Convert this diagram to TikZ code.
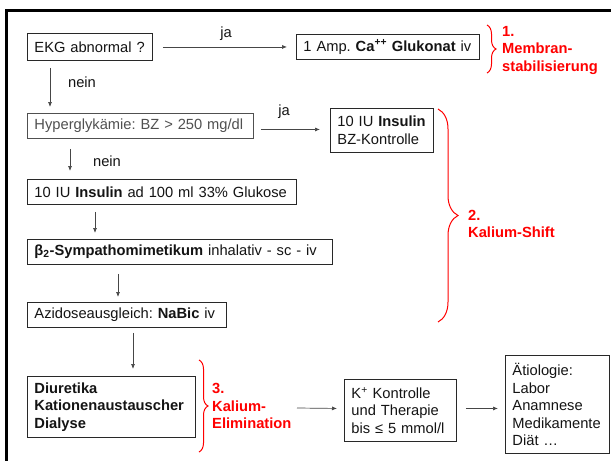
\documentclass[tikz,border=0pt]{standalone}
\usepackage{fontspec}
\setmainfont{Liberation Sans}
\usetikzlibrary{arrows.meta,decorations.pathreplacing}
\definecolor{redc}{RGB}{255,0,0}
\definecolor{boxline}{RGB}{40,40,40}
\definecolor{arrc}{RGB}{70,70,70}
\definecolor{txt}{RGB}{20,20,20}
\definecolor{hyptxt}{RGB}{80,80,80}
\frenchspacing
\begin{document}
\begin{tikzpicture}[x=1pt,y=-1pt,
  box/.style={draw=boxline, line width=0.9pt, anchor=north west, inner xsep=7pt, inner ysep=0pt, align=left, text=txt, font=\fontsize{14.7}{17.5}\selectfont\frenchspacing},
  arr/.style={draw=arrc, line width=0.7pt, -{Latex[length=5pt,width=4pt]}},
  lbl/.style={text=txt, font=\fontsize{14.7}{17.5}\selectfont, inner sep=0pt, anchor=base},
  redlbl/.style={text=redc, font=\fontsize{14.7}{17.5}\selectfont\bfseries, align=left, anchor=west, inner sep=0pt},
  brc/.style={draw=redc, line width=1pt, decorate, decoration={brace, amplitude=#1}},
]
\useasboundingbox (0,0) rectangle (611,461);
\fill[white] (0,0) rectangle (611,461);
% frame
\draw[line width=3pt, line join=miter] (611,10.5) -- (6.5,10.5) -- (6.5,461);

% boxes
\node[box, minimum width=125pt, text width=111pt, minimum height=27pt] (ekg) at (27,33) {\mbox{EKG abnormal ?}};
\node[box, minimum width=183pt, text width=169pt, minimum height=25pt] (ca) at (296,34) {\mbox{1 Amp. \textbf{Ca\textsuperscript{++} Glukonat} iv}};
\node[box, draw=hyptxt, text=hyptxt, minimum width=226pt, text width=212pt, minimum height=25pt] (hyp) at (27,113) {\mbox{Hyperglykämie: BZ > 250 mg/dl}};
\node[box, minimum width=103pt, text width=89pt, minimum height=44pt] (ins1) at (330,108) {\mbox{10 IU \textbf{Insulin}}\\BZ-Kontrolle};
\node[box, minimum width=269pt, text width=255pt, minimum height=25pt] (ins2) at (27,179) {\mbox{10 IU \textbf{Insulin} ad 100 ml 33\% Glukose}};
\node[box, minimum width=305pt, text width=291pt, minimum height=25pt] (beta) at (27,239) {\mbox{\textbf{β\textsubscript{2}-Sympathomimetikum} inhalativ - sc - iv}};
\node[box, minimum width=199pt, text width=185pt, minimum height=25pt] (azi) at (27,302) {\mbox{Azidoseausgleich: \textbf{NaBic} iv}};
\node[box, minimum width=168pt, text width=154pt, minimum height=61pt] (diu) at (27,376) {\textbf{Diuretika}\\\textbf{Kationenaustauscher}\\\textbf{Dialyse}};
\node[box, minimum width=112pt, text width=98pt, minimum height=62pt] (kk) at (344,379) {\mbox{K\textsuperscript{+} Kontrolle}\\\mbox{und Therapie}\\\mbox{bis ≤ 5 mmol/l}};
\node[box, minimum width=104pt, text width=90pt, minimum height=98pt] (aet) at (505,355) {Ätiologie:\\Labor\\Anamnese\\Medikamente\\Diät …};

% connectors
\draw[arr] ([xshift=10pt]ekg.east) -- ([xshift=-9pt]ca.west);
\node[lbl] (ja1) at (226,37) {ja};
\draw[arr] ([xshift=23pt,yshift=-7pt]ekg.south west) -- ([xshift=23pt,yshift=6pt]hyp.north west);
\node[lbl] (nein1) at (82,87) {nein};
\draw[arr] ([xshift=7pt,yshift=-3.5pt]hyp.east) -- ([xshift=-10pt,yshift=1pt]ins1.west);
\node[lbl] (ja2) at (284,115) {ja};
\draw[arr] ([xshift=43pt,yshift=-10pt]hyp.south west) -- ([xshift=43pt,yshift=8pt]ins2.north west);
\node[lbl] (nein2) at (107,166) {nein};
\draw[arr] ([xshift=68pt,yshift=-7pt]ins2.south west) -- ([xshift=68pt,yshift=6pt]beta.north west);
\draw[arr] ([xshift=91pt,yshift=-9pt]beta.south west) -- ([xshift=91pt,yshift=5pt]azi.north west);
\draw[arr] ([xshift=106pt,yshift=-5pt]azi.south west) -- ([xshift=106pt,yshift=7pt]diu.north west);
\coordinate (elimend) at (297,408);
\draw[arr] (elimend) -- ([xshift=-7pt,yshift=2pt]kk.west);
\draw[arr] ([xshift=9pt,yshift=2pt]kk.east) -- ([xshift=-7pt,yshift=-4pt]aet.west);

% braces
\draw[brc=9pt] (487,25) -- (487,73);
\node[redlbl] (r1) at (502,50) {1.\\Membran-\\stabilisierung};
\draw[brc=20pt] (438,109) -- (438,322);
\node[redlbl] (r2) at (468,224) {2.\\Kalium-Shift};
\draw[brc=9pt] (199,360) -- (199,452);
\node[redlbl] (r3) at (212,406) {3.\\Kalium-\\Elimination};
\end{tikzpicture}
\end{document}
